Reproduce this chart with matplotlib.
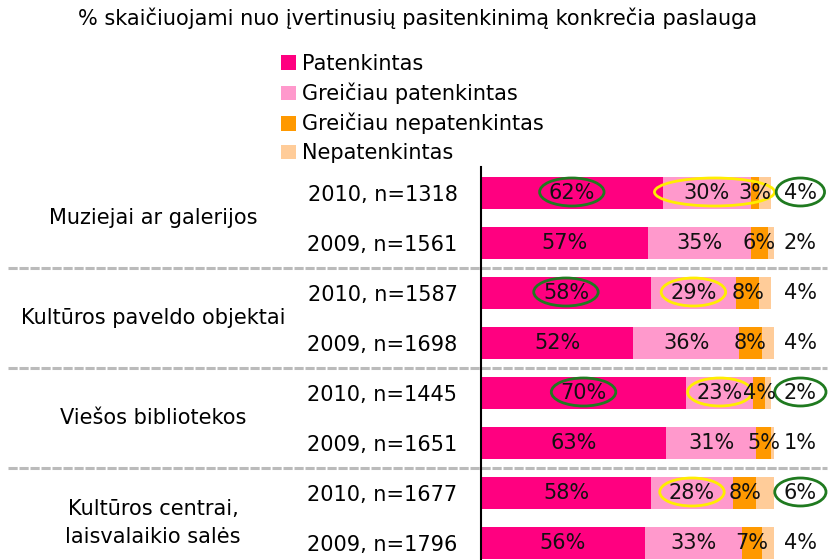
import matplotlib
matplotlib.use("Agg")
import matplotlib.pyplot as plt
from matplotlib.patches import Patch, Ellipse
import matplotlib.transforms as mtransforms
import numpy as np

plt.rcParams['font.family'] = ['DejaVu Sans']

title = "% skaičiuojami nuo įvertinusių pasitenkinimą konkrečia paslauga"
groups = ["Muziejai ar galerijos", "Kultūros paveldo objektai",
          "Viešos bibliotekos", "Kultūros centrai,\nlaisvalaikio salės"]
row_labels = ["2010, n=1318", "2009, n=1561", "2010, n=1587", "2009, n=1698",
              "2010, n=1445", "2009, n=1651", "2010, n=1677", "2009, n=1796"]
series_names = ["Patenkintas", "Greičiau patenkintas",
                "Greičiau nepatenkintas", "Nepatenkintas"]
patenkintas = [62, 57, 58, 52, 70, 63, 58, 56]
greiciau_pat = [30, 35, 29, 36, 23, 31, 28, 33]
greiciau_nepat = [3, 6, 8, 8, 4, 5, 8, 7]
nepatenkintas = [4, 2, 4, 4, 2, 1, 6, 4]
colors = ["#ff0080", "#ff99cc", "#ff9900", "#ffcc99"]

# highlighted labels: (row, series index, color, width in %)
highlights = [(0, 0, "#1f7a1f", 22), (0, 1, "#ffee00", 41), (0, 3, "#1f7a1f", 16.5),
              (2, 0, "#1f7a1f", 22), (2, 1, "#ffee00", 22),
              (4, 0, "#1f7a1f", 22), (4, 1, "#ffee00", 22), (4, 3, "#1f7a1f", 17.5),
              (6, 1, "#ffee00", 22), (6, 3, "#1f7a1f", 17.5)]
hl_offsets = {(0, 1): 2.7}

W, H = 840, 560
fig = plt.figure(figsize=(W / 100, H / 100), dpi=100)
ax_left_px, ax_top_px = 481, 167
ax = fig.add_axes([ax_left_px / W, 0, (W - ax_left_px) / W, (H - ax_top_px) / H])

px_per_pct = 2.93
ax.set_xlim(0, (W - ax_left_px) / px_per_pct)
row_px = 50.0
ax.set_ylim((H - 193) / row_px, -(193 - ax_top_px) / row_px)

data = [patenkintas, greiciau_pat, greiciau_nepat, nepatenkintas]
y = np.arange(len(row_labels))
left = np.zeros(len(y))
fs = 15
label_x = {}
for si, (vals, col, name) in enumerate(zip(data, colors, series_names)):
    vals = np.array(vals, dtype=float)
    ax.barh(y, vals, left=left, height=0.64, color=col, label=name, edgecolor='none')
    for i, v in enumerate(vals):
        if si < 3:
            xc = left[i] + v / 2
        else:
            xc = 109
        label_x[(i, si)] = xc
        ax.text(xc, i, f"{int(v)}%", ha='center', va='center', fontsize=fs, color='#111111')
    left += vals

for (r, s, c, w) in highlights:
    xc = label_x[(r, s)] + hl_offsets.get((r, s), 0)
    e = Ellipse((xc, r - 0.02), w, 0.56, fill=False, edgecolor=c, lw=2, clip_on=False)
    ax.add_patch(e)

ax.set_yticks(y)
ax.set_yticklabels(row_labels, fontsize=fs)
ax.tick_params(axis='y', length=0, pad=17)
ax.set_xticks([])
for sp in ['top', 'right', 'bottom']:
    ax.spines[sp].set_visible(False)
ax.spines['left'].set_linewidth(1.5)

bt = mtransforms.blended_transform_factory(fig.transFigure, ax.transData)
for sep in [1.5, 3.5, 5.5]:
    ax.plot([8 / W, 827 / W], [sep, sep], transform=bt, color='#bbbbbb',
            lw=2.2, ls=(0, (3, 0.6)), clip_on=False)

group_y = [0.5, 2.5, 4.5, 6.6]
for g, gy in zip(groups, group_y):
    ax.text(153 / W, gy, g, transform=bt, ha='center', va='center',
            fontsize=fs, linespacing=1.45)

fig.text(418 / W, 1 - 18 / H, title, ha='center', va='center', fontsize=fs)

handles = [Patch(facecolor=c, edgecolor='none') for c in colors]
fig.legend(handles, series_names, loc='upper left', bbox_to_anchor=(281 / W, 1 - 54 / H),
           frameon=False, fontsize=fs, handlelength=0.7, handleheight=0.7,
           handletextpad=0.3, labelspacing=0.42, borderaxespad=0, borderpad=0)

fig.savefig("out.png", dpi=100)
